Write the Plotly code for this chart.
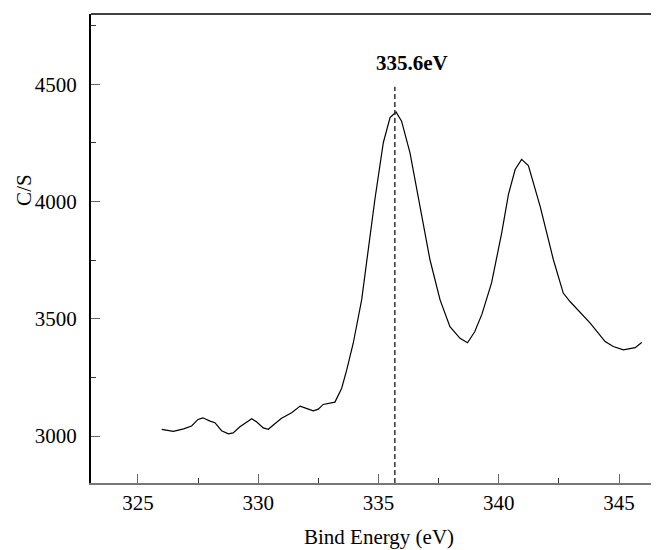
import plotly.graph_objects as go

energy = [325.99, 326.47, 326.9, 327.23, 327.5, 327.7, 328.0, 328.2, 328.48, 328.76,
          328.96, 329.24, 329.73, 329.93, 330.21, 330.42, 330.63, 330.97, 331.39, 331.74,
          332.0, 332.29, 332.5, 332.7, 333.19, 333.47, 333.68, 333.95, 334.3, 334.65,
          334.85, 335.2, 335.48, 335.73, 335.96, 336.31, 336.73, 337.14, 337.56, 337.97,
          338.39, 338.7, 339.0, 339.3, 339.7, 340.12, 340.4, 340.68, 340.95, 341.23,
          341.72, 342.0, 342.27, 342.68, 342.96, 343.8, 344.42, 344.76, 345.18, 345.67,
          345.94]
counts = [3029, 3020, 3031, 3043, 3071, 3078, 3064, 3057, 3023, 3010,
          3014, 3040, 3074, 3061, 3035, 3029, 3047, 3076, 3100, 3128,
          3118, 3108, 3115, 3135, 3145, 3204, 3282, 3396, 3581, 3866,
          4009, 4251, 4358, 4382, 4343, 4208, 3980, 3752, 3581, 3467,
          3417, 3398, 3445, 3520, 3653, 3866, 4030, 4137, 4180, 4154,
          3980, 3866, 3752, 3610, 3574, 3482, 3403, 3382, 3368, 3377,
          3399]

peak_x = 335.68
peak_label = "335.6eV"
peak_line_top = 4490
x_range = [323.05, 346.66]
y_range = [2800, 4800]
x_ticks = [325, 330, 335, 340, 345]
y_ticks = [3000, 3500, 4000, 4500]
x_title = "Bind Energy (eV)"
y_title = "C/S"

font = "Liberation Serif, Times New Roman, serif"
fs = 21

fig = go.Figure()
fig.add_trace(go.Scatter(x=energy, y=counts, mode="lines",
                         line=dict(color="black", width=1.2), showlegend=False,
                         hoverinfo="skip"))
fig.add_trace(go.Scatter(x=[peak_x, peak_x], y=[y_range[0], peak_line_top], mode="lines",
                         line=dict(color="#333333", width=1.5, dash="5px,3px"),
                         showlegend=False, hoverinfo="skip"))

fig.add_annotation(x=peak_x, y=peak_line_top, text="<b>" + peak_label + "</b>",
                   showarrow=False, yanchor="middle", xanchor="center",
                   xshift=17, yshift=24,
                   font=dict(family=font, size=fs, color="black"))

# axis titles placed as annotations
fig.add_annotation(x=0.507, y=0, xref="paper", yref="paper", text=x_title,
                   showarrow=False, xanchor="center", yanchor="middle", yshift=-54,
                   font=dict(family=font, size=fs, color="black"))
fig.add_annotation(x=0, y=0.625, xref="paper", yref="paper", text=y_title,
                   showarrow=False, xanchor="center", yanchor="middle", xshift=-67,
                   textangle=-90, font=dict(family=font, size=fs, color="black"))

# top frame line
fig.add_shape(type="line", xref="paper", yref="paper", x0=0, x1=1, y0=1, y1=1,
              line=dict(color="black", width=1.5))

# the page body adds an 8px offset; size the figure so the plot area lands where the reference has it
fig.update_layout(
    width=651, height=542,
    margin=dict(l=83, r=0, t=6, b=67),
    paper_bgcolor="white", plot_bgcolor="white",
    font=dict(family=font, size=fs, color="black"),
)
fig.update_xaxes(range=x_range, tickvals=x_ticks, ticks="inside", ticklen=9, tickwidth=1.2,
                 tickcolor="#666666", showline=True, linecolor="#777777", linewidth=2,
                 showgrid=False, zeroline=False, automargin=False,
                 tickfont=dict(family=font, size=fs),
                 minor=dict(dtick=2.5, ticks="inside", ticklen=5, tickcolor="#333333", tickwidth=1))
fig.update_yaxes(range=y_range, tickvals=y_ticks,
                 ticktext=[str(v) + "\u2009\u2009" for v in y_ticks],
                 ticks="inside", ticklen=9, tickwidth=1.2,
                 tickcolor="#666666", showline=True, linecolor="black", linewidth=1.5,
                 showgrid=False, zeroline=False, automargin=False,
                 tickfont=dict(family=font, size=fs),
                 minor=dict(dtick=250, ticks="inside", ticklen=5, tickcolor="#333333", tickwidth=1))

fig.write_html("out.html")
